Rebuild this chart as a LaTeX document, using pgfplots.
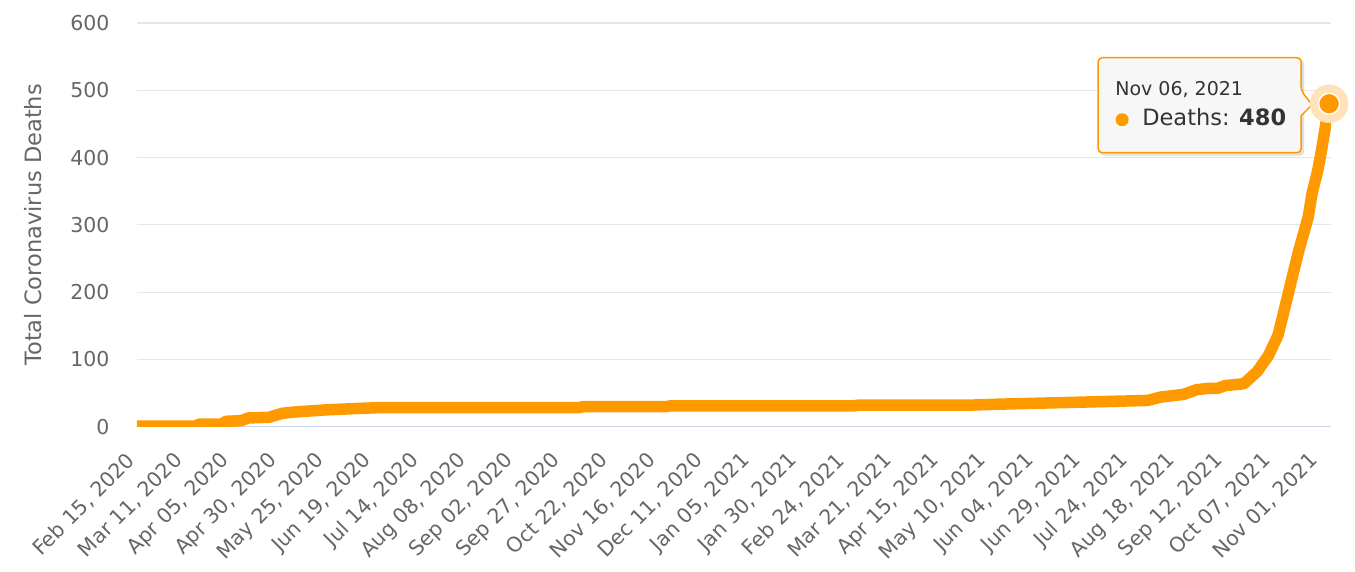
\documentclass[border=0pt]{standalone}
\usepackage{fontspec}
\setmainfont{DejaVu Sans}
\usepackage{pgfplots}
\pgfplotsset{compat=1.18}
\definecolor{hcorange}{HTML}{FF9900}
\definecolor{halo}{HTML}{FFE2B8}
\definecolor{gridc}{HTML}{E6E6E6}
\definecolor{axisc}{HTML}{CCD6EB}
\definecolor{labc}{HTML}{666666}
\definecolor{ttext}{HTML}{333333}
\definecolor{ttbg}{HTML}{F7F7F7}
\begin{document}
\begin{tikzpicture}
\useasboundingbox (-137pt,-145.3pt) rectangle (1218pt,426.7pt);
\begin{axis}[
 at={(0pt,0pt)}, anchor=south west,
 scale only axis, width=1194pt, height=403.7pt,
 xmin=0, xmax=631, ymin=0, ymax=600,
 axis x line*=bottom, axis y line*=left,
 x axis line style={draw=axisc, line width=1.2pt, -},
 y axis line style={draw=none},
 ytick={0,100,...,600},
 xtick={0,25,...,625},
 xticklabels={{Feb 15, 2020},{Mar 11, 2020},{Apr 05, 2020},{Apr 30, 2020},{May 25, 2020},{Jun 19, 2020},{Jul 14, 2020},{Aug 08, 2020},{Sep 02, 2020},{Sep 27, 2020},{Oct 22, 2020},{Nov 16, 2020},{Dec 11, 2020},{Jan 05, 2021},{Jan 30, 2021},{Feb 24, 2021},{Mar 21, 2021},{Apr 15, 2021},{May 10, 2021},{Jun 04, 2021},{Jun 29, 2021},{Jul 24, 2021},{Aug 18, 2021},{Sep 12, 2021},{Oct 07, 2021},{Nov 01, 2021}},
 major tick length=0pt,
 ymajorgrids, grid style={draw=gridc, line width=1.2pt},
 tick label style={font=\fontsize{20.5}{24}\selectfont, text=labc},
 /pgf/number format/assume math mode=true,
 yticklabel style={anchor=east, xshift=-24pt},
 xticklabel style={xshift=-3pt, yshift=-28pt, rotate=45, anchor=east},
 ylabel={Total Coronavirus Deaths},
 ylabel style={at={(axis description cs:-0.0871,0.5)}, anchor=center, font=\fontsize{22.5}{26}\selectfont, text=labc},
]
\addplot[hcorange, line width=11.5pt, line join=round, line cap=round, mark=none] coordinates {
(0,1) (31,1) (33,4) (45,4) (47,8) (55,9) (59,13) (70,14) (72,16) (77,20) (84,22) (100,25) (120,27.5) (130,28.5)
(234,28.5) (236,30) (280,30) (282,31) (379,31) (381,32) (440,32) (456,33.5) (492,36) (534,39) (541,44) (553,48)
(560,55) (566,57) (571,57) (575,61) (582,63) (585,64) (592,82) (598,106) (603,136) (608,193) (611,228) (614,262)
(619,312) (621,347) (624,381) (626,411) (630,480)
};
\addplot[halo, only marks, mark=*, mark size=19pt, mark options={fill=halo, draw=halo}] coordinates {(630,480)};
\addplot[hcorange, only marks, mark=*, mark size=10.5pt, mark options={fill=hcorange, draw=white, line width=1.5pt}] coordinates {(630,480)};
% tooltip
\fill[black, opacity=0.12, rounded corners=4pt] ([xshift=-229pt,yshift=44pt]axis cs:630,480) rectangle ([xshift=-25pt,yshift=-52pt]axis cs:630,480);
\filldraw[fill=ttbg, draw=hcorange, line width=1.5pt, rounded corners=4pt] ([xshift=-231pt,yshift=46pt]axis cs:630,480) -- ++(203pt,0pt) -- ++(0pt,-33pt) [sharp corners] -- ++(11pt,-14pt) -- ++(-11pt,-11pt) [rounded corners=4pt] -- ++(0pt,-37pt) -- ++(-203pt,0pt) -- cycle;
\node[anchor=base west, inner sep=0pt, text=ttext, font=\fontsize{19}{22}\selectfont] at ([xshift=-214pt,yshift=8pt]axis cs:630,480) {Nov 06, 2021};
\fill[hcorange] ([xshift=-207pt,yshift=-16pt]axis cs:630,480) circle (6.5pt);
\node[anchor=base west, inner sep=0pt, text=ttext, font=\fontsize{22.5}{26}\selectfont] at ([xshift=-187pt,yshift=-22pt]axis cs:630,480) {Deaths: \textbf{480}};
\end{axis}
\end{tikzpicture}
\end{document}
